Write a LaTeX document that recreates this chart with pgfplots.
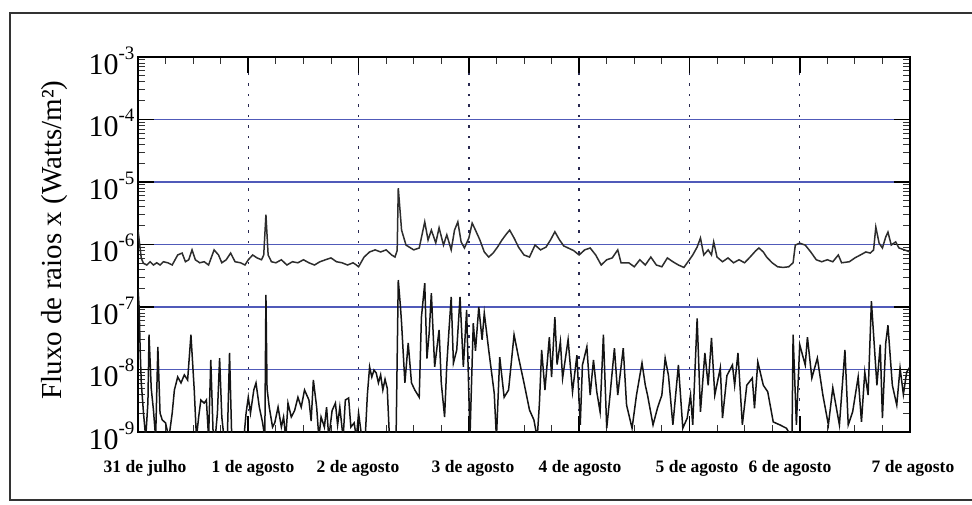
\documentclass[border=0pt]{standalone}
\usepackage{fontspec}
\setmainfont{Liberation Serif}
\usepackage{pgfplots}
\pgfplotsset{compat=1.18}
\definecolor{gridblue}{RGB}{80,90,185}
\definecolor{dashc}{RGB}{40,40,80}
\definecolor{upc}{RGB}{45,45,45}
\definecolor{loc}{RGB}{20,20,20}
\newcommand{\ylab}[1]{10\raisebox{15pt}{\fontsize{19}{19}\selectfont #1}}
\begin{document}
\begin{tikzpicture}
\useasboundingbox (0,0) rectangle (972pt,504pt);
\fill[white] (0,0) rectangle (972pt,504pt);
\draw[line width=1.8pt, black!80] (990pt,491pt) -- (10pt,491pt) -- (10pt,4pt) -- (990pt,4pt);
\begin{axis}[
  at={(138pt,72pt)}, anchor=south west,
  width=772pt, height=375pt, scale only axis,
  xmin=0, xmax=7, ymin=1e-9, ymax=1e-3, ymode=log,
  xtick={0,1,2,3,4,5,6,7}, minor x tick num=3, xticklabels={},
  ytick={1e-9,1e-8,1e-7,1e-6,1e-5,1e-4,1e-3},
  minor ytick={2e-9,3e-9,4e-9,5e-9,6e-9,7e-9,8e-9,9e-9,2e-8,3e-8,4e-8,5e-8,6e-8,7e-8,8e-8,9e-8,2e-7,3e-7,4e-7,5e-7,6e-7,7e-7,8e-7,9e-7,2e-6,3e-6,4e-6,5e-6,6e-6,7e-6,8e-6,9e-6,2e-5,3e-5,4e-5,5e-5,6e-5,7e-5,8e-5,9e-5,2e-4,3e-4,4e-4,5e-4,6e-4,7e-4,8e-4,9e-4},
  yticklabels={\ylab{-9},\ylab{-8},\ylab{-7},\ylab{-6},\ylab{-5},\ylab{-4},\ylab{-3}},
  yticklabel style={font=\fontsize{30}{30}\selectfont, anchor=base east, yshift=-17pt},
  major tick length=16pt, minor tick length=7pt,
  major tick style={black, line width=1.8pt},
  minor tick style={black!80, line width=1pt},
  axis line style={line width=2.2pt},
  xmajorgrids, ymajorgrids,
  x grid style={dashc, line width=1.5pt, dash pattern=on 2.5pt off 8pt},
  y grid style={gridblue, line width=1.6pt},
  ylabel={Fluxo de raios x (Watts/m²)},
  every axis y label/.style={at={(axis description cs:-0.108,0.512)}, rotate=90, anchor=center, font=\fontsize{29}{29}\selectfont},
]
% upper series
\addplot[upc, line width=1.5pt] coordinates {
(0.00,1.7e-6)(0.01,1.2e-6)(0.03,0.6e-6)(0.05,0.5e-6)(0.08,0.47e-6)(0.11,0.53e-6)(0.14,0.47e-6)(0.17,0.51e-6)(0.20,0.47e-6)(0.23,0.53e-6)(0.27,0.51e-6)(0.31,0.47e-6)(0.36,0.68e-6)(0.40,0.73e-6)(0.43,0.53e-6)(0.46,0.57e-6)(0.49,0.82e-6)(0.52,0.57e-6)(0.56,0.51e-6)(0.60,0.53e-6)(0.64,0.47e-6)(0.69,0.82e-6)(0.73,0.68e-6)(0.76,0.51e-6)(0.80,0.57e-6)(0.84,0.73e-6)(0.88,0.53e-6)(0.93,0.51e-6)(0.97,0.47e-6)(1.00,0.57e-6)(1.04,0.68e-6)(1.08,0.61e-6)(1.12,0.57e-6)(1.14,0.68e-6)(1.16,3.0e-6)(1.18,0.68e-6)(1.21,0.53e-6)(1.25,0.51e-6)(1.30,0.57e-6)(1.35,0.47e-6)(1.40,0.53e-6)(1.45,0.51e-6)(1.50,0.57e-6)(1.55,0.51e-6)(1.60,0.47e-6)(1.65,0.53e-6)(1.70,0.57e-6)(1.75,0.61e-6)(1.80,0.53e-6)(1.85,0.51e-6)(1.90,0.47e-6)(1.95,0.51e-6)(1.98,0.47e-6)(2.00,0.44e-6)(2.05,0.63e-6)(2.10,0.76e-6)(2.15,0.82e-6)(2.20,0.76e-6)(2.25,0.82e-6)(2.30,0.68e-6)(2.33,0.63e-6)(2.35,0.8e-6)(2.36,8.0e-6)(2.39,1.7e-6)(2.43,0.98e-6)(2.50,0.82e-6)(2.55,0.88e-6)(2.60,2.3e-6)(2.63,1.18e-6)(2.66,1.7e-6)(2.70,1.06e-6)(2.73,1.85e-6)(2.77,0.98e-6)(2.80,1.43e-6)(2.84,0.82e-6)(2.87,1.7e-6)(2.90,2.3e-6)(2.93,1.1e-6)(2.96,0.88e-6)(3.00,1.27e-6)(3.03,2.2e-6)(3.06,1.7e-6)(3.10,1.18e-6)(3.14,0.76e-6)(3.18,0.63e-6)(3.22,0.73e-6)(3.26,0.91e-6)(3.30,1.18e-6)(3.34,1.47e-6)(3.37,1.7e-6)(3.41,1.27e-6)(3.45,0.91e-6)(3.50,0.68e-6)(3.55,0.63e-6)(3.60,0.98e-6)(3.65,0.82e-6)(3.70,0.91e-6)(3.74,1.18e-6)(3.78,1.6e-6)(3.82,1.2e-6)(3.86,0.95e-6)(3.90,0.88e-6)(3.95,0.8e-6)
(4.00,0.68e-6)(4.05,0.82e-6)(4.10,0.88e-6)(4.15,0.68e-6)(4.20,0.47e-6)(4.25,0.57e-6)(4.30,0.61e-6)(4.35,0.82e-6)(4.38,0.51e-6)(4.45,0.51e-6)(4.50,0.44e-6)(4.55,0.57e-6)(4.60,0.47e-6)(4.65,0.63e-6)(4.70,0.47e-6)(4.75,0.44e-6)(4.80,0.61e-6)(4.85,0.53e-6)(4.90,0.47e-6)(4.95,0.43e-6)(5.00,0.57e-6)(5.03,0.68e-6)(5.07,0.91e-6)(5.10,1.27e-6)(5.13,0.68e-6)(5.17,0.82e-6)(5.20,0.68e-6)(5.22,1.1e-6)(5.25,0.63e-6)(5.30,0.53e-6)(5.35,0.61e-6)(5.40,0.51e-6)(5.45,0.57e-6)(5.50,0.51e-6)(5.55,0.63e-6)(5.60,0.79e-6)(5.63,0.88e-6)(5.67,0.76e-6)(5.70,0.63e-6)(5.75,0.51e-6)(5.80,0.44e-6)(5.85,0.43e-6)(5.90,0.44e-6)(5.94,0.51e-6)(5.96,0.98e-6)(6.00,1.05e-6)(6.05,0.98e-6)(6.10,0.76e-6)(6.15,0.57e-6)(6.20,0.53e-6)(6.25,0.57e-6)(6.30,0.53e-6)(6.35,0.68e-6)(6.38,0.51e-6)(6.45,0.53e-6)(6.50,0.61e-6)(6.55,0.68e-6)(6.60,0.76e-6)(6.64,0.73e-6)(6.67,0.82e-6)(6.69,1.9e-6)(6.72,1.05e-6)(6.75,0.88e-6)(6.78,1.32e-6)(6.80,1.58e-6)(6.83,0.98e-6)(6.87,1.1e-6)(6.90,0.88e-6)(6.95,0.82e-6)(7.00,0.76e-6)
};
% lower series
\addplot[loc, line width=1.5pt] coordinates {
(0.00,2.0e-7)(0.01,1.0e-7)(0.02,2e-8)(0.03,6e-9)(0.05,2e-9)(0.07,8e-10)(0.09,3e-9)(0.10,3.6e-8)(0.12,5e-9)(0.14,2.25e-9)(0.16,8e-10)(0.18,2.3e-8)(0.20,2e-9)(0.22,1.56e-9)(0.25,1.4e-9)(0.28,8e-10)(0.31,2e-9)(0.33,4.7e-9)(0.36,7.6e-9)(0.39,6.1e-9)(0.42,8.2e-9)(0.45,6.8e-9)(0.48,3.6e-8)(0.51,4.7e-9)(0.53,8e-10)(0.55,1.74e-9)(0.57,3.25e-9)(0.60,2.9e-9)(0.62,3.25e-9)(0.64,8e-10)(0.66,1.42e-8)(0.68,1.1e-9)(0.70,8e-10)(0.72,2e-9)(0.74,1.52e-8)(0.76,1.74e-9)(0.78,8e-10)(0.81,8e-10)(0.83,1.84e-8)(0.85,8e-10)(0.96,8e-10)(0.98,2e-9)(1.00,3.6e-9)(1.02,2e-9)(1.05,4.7e-9)(1.07,6.1e-9)(1.10,2.5e-9)(1.13,1.4e-9)(1.15,8e-10)(1.16,1.56e-7)(1.17,5e-9)(1.19,2.5e-9)(1.22,1.2e-9)(1.24,1.4e-9)(1.27,2.5e-9)(1.30,1.2e-9)(1.32,1.74e-9)(1.34,8e-10)(1.36,2.9e-9)(1.39,1.74e-9)(1.42,2.2e-9)(1.45,3.6e-9)(1.48,2.5e-9)(1.51,4.7e-9)(1.55,3.25e-9)(1.57,1.5e-9)(1.59,6.8e-9)(1.62,2.5e-9)(1.64,8e-10)(1.66,1.74e-9)(1.69,1.2e-9)(1.71,2.5e-9)(1.73,8e-10)(1.76,2.2e-9)(1.79,2.9e-9)(1.81,1.3e-9)(1.83,2.5e-9)(1.86,8e-10)(1.88,3.25e-9)(1.91,3.5e-9)(1.93,1.2e-9)(1.96,1.4e-9)(1.98,8e-10)(2.00,2e-9)(2.03,8e-10)(2.06,8e-10)(2.08,4e-9)(2.10,1.1e-8)(2.12,7.6e-9)(2.14,9.8e-9)(2.16,8.8e-9)(2.18,6.1e-9)(2.20,8.2e-9)(2.22,4.7e-9)(2.24,7e-9)(2.26,5e-9)(2.28,8e-10)(2.34,8e-10)(2.36,2.7e-7)(2.38,1.0e-7)(2.39,5.5e-8)(2.42,6.1e-9)(2.45,2.65e-8)(2.48,6.1e-9)(2.51,4.7e-9)(2.55,3.6e-9)(2.57,6.9e-8)(2.60,2.4e-7)(2.62,1.5e-8)(2.64,3.8e-8)(2.66,1.67e-7)(2.69,1.1e-8)(2.73,4.3e-8)(2.75,6.1e-9)(2.78,1.74e-9)(2.80,1.2e-8)(2.82,4.3e-8)(2.84,1.45e-7)(2.86,1.27e-8)(2.89,2.05e-8)(2.92,1.45e-7)(2.95,1.1e-8)(2.98,9e-8)(3.01,8e-10)(3.04,5.5e-8)(3.06,2e-8)(3.09,1.0e-7)(3.12,3e-8)(3.14,8e-8)(3.18,2.05e-8)(3.23,4.2e-9)(3.25,8e-10)(3.28,1.58e-8)(3.32,3.6e-9)(3.36,4.7e-9)(3.41,3.6e-8)(3.45,1.58e-8)(3.50,6.1e-9)(3.55,2.25e-9)(3.59,1.56e-9)(3.62,8e-10)(3.64,2.9e-9)(3.66,2.05e-8)(3.69,4.7e-9)(3.73,3.3e-8)(3.75,7.6e-9)(3.78,6.9e-8)(3.80,1.2e-8)
(3.83,2.8e-8)(3.85,7.3e-9)(3.90,3.0e-8)(3.94,4.4e-9)(3.98,1.7e-8)(4.01,1.3e-9)(4.03,1.18e-8)(4.07,2.3e-8)(4.10,3.9e-9)(4.13,1.42e-8)(4.16,4.4e-9)(4.19,2.1e-9)(4.22,3.6e-8)(4.25,1.15e-9)(4.28,3.9e-9)(4.32,2.2e-8)(4.35,3.9e-9)(4.40,2.2e-8)(4.43,2.7e-9)(4.48,1.15e-9)(4.52,3.9e-9)(4.57,1.27e-8)(4.60,5.6e-9)(4.62,3.9e-9)(4.67,1.3e-9)(4.71,2.4e-9)(4.75,3.9e-9)(4.78,1.52e-8)(4.81,8e-9)(4.85,1.3e-9)(4.90,1.18e-8)(4.94,1.15e-9)(4.98,1.67e-9)(5.01,3.9e-9)(5.03,1.3e-9)(5.07,6.6e-8)(5.10,2.1e-9)(5.14,1.84e-8)(5.17,5.6e-9)(5.20,3.2e-8)(5.23,3.9e-9)(5.28,1.06e-8)(5.30,1.67e-9)(5.34,8e-9)(5.39,1.18e-8)(5.41,5.6e-9)(5.44,1.84e-8)(5.48,1.3e-9)(5.52,5.6e-9)(5.57,7.3e-9)(5.59,2.4e-9)(5.62,1.32e-8)(5.67,5.6e-9)(5.71,4.4e-9)(5.76,1.45e-9)(5.82,1.3e-9)(5.88,1.15e-9)(5.93,8e-10)(5.94,3.6e-8)(5.97,1.3e-9)(6.00,2.5e-8)(6.05,1.18e-8)(6.07,3.3e-8)(6.11,7.3e-9)(6.16,1.52e-8)(6.21,3.9e-9)(6.26,1.3e-9)(6.30,5.1e-9)(6.36,1.3e-9)(6.41,2.05e-8)(6.44,1.3e-9)(6.48,2.1e-9)(6.53,7.6e-9)(6.56,1.45e-9)(6.59,9.1e-9)(6.62,3.9e-9)(6.65,1.24e-7)(6.70,5.6e-9)(6.73,2.5e-8)(6.75,1.67e-9)(6.78,2.65e-8)(6.80,5.1e-8)(6.84,5.6e-9)(6.88,2.7e-9)(6.91,1.06e-8)(6.94,4e-9)(6.97,9.1e-9)(7.00,1.1e-8)
};
\end{axis}
\begin{scope}[every node/.style={font=\bfseries\fontsize{17.5}{17.5}\selectfont, anchor=center}]
\node at (145pt,36pt) {31 de julho};
\node at (253pt,36pt) {1 de agosto};
\node at (358pt,36pt) {2 de agosto};
\node at (473pt,36pt) {3 de agosto};
\node at (580pt,36pt) {4 de agosto};
\node at (697pt,36pt) {5 de agosto};
\node at (790pt,36pt) {6 de agosto};
\node at (913pt,36pt) {7 de agosto};
\end{scope}
\end{tikzpicture}
\end{document}
